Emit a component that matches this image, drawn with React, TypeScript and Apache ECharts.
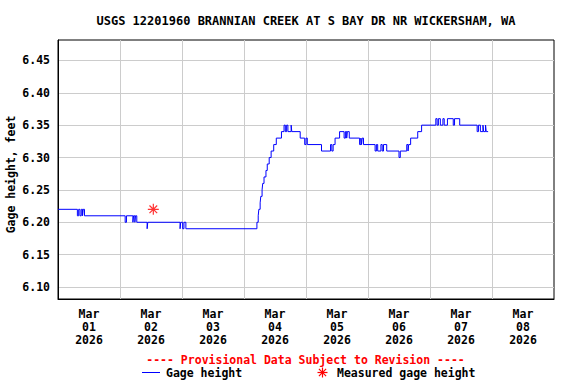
import React, { useEffect, useRef } from 'react';
import * as echarts from 'echarts';

const TITLE = 'USGS 12201960 BRANNIAN CREEK AT S BAY DR NR WICKERSHAM, WA';
const Y_NAME = 'Gage height, feet';
const PROVISIONAL = '---- Provisional Data Subject to Revision ----';
const LEGEND_LINE = 'Gage height';
const LEGEND_POINT = 'Measured gage height';
const MONTH = 'Mar';
const YEAR = '2026';
const DAY_LABELS = ['01', '02', '03', '04', '05', '06', '07', '08'];

// hours since 2026-03-01 00:00, value holds from that time until the next one
const gageHours = [
  -12, -4.5, -4.0, -3.5, -3.0, -2.5, -2.25, -1.75,
  14.0, 14.5, 17.0, 17.25, 17.75, 18.0, 18.5,
  22.5, 22.75,
  35.25, 35.5, 36.25, 36.75, 37.5,
  65.0, 65.5, 65.75, 66.25, 66.5, 67.0, 67.25, 67.75, 68.5, 69.0, 69.75, 70.5, 71.5, 72.5,
  74.5, 75.5, 76.0, 76.5, 77.0, 78.25, 78.5,
  81.75, 83.5, 84.0, 84.5,
  90.0, 93.5, 94.0, 94.5, 95.25, 97.0,
  98.75, 99.25, 99.75, 100.0, 100.75,
  104.75, 105.25, 105.5, 105.75, 106.25,
  110.75, 111.25, 111.75, 113.0, 113.5, 114.0, 115.25,
  120.0, 120.5,
  123.0, 123.5, 123.75, 124.5, 127.25, 128.75,
  134.25, 134.75, 135.25, 136.0, 137.0, 137.5, 138.75, 141.0, 141.5, 143.5,
  150.25, 150.75, 151.5, 152.5, 152.75, 153.5, 153.75, 154.5,
];
const gageValues = [
  6.22, 6.21, 6.22, 6.21, 6.22, 6.21, 6.22, 6.21,
  6.20, 6.21, 6.20, 6.21, 6.20, 6.21, 6.20,
  6.19, 6.20,
  6.19, 6.20, 6.19, 6.20, 6.19,
  6.20, 6.21, 6.22, 6.23, 6.24, 6.25, 6.26, 6.27, 6.28, 6.29, 6.30, 6.31, 6.32, 6.33,
  6.34, 6.35, 6.34, 6.35, 6.34, 6.35, 6.34,
  6.33, 6.32, 6.33, 6.32,
  6.31, 6.32, 6.31, 6.32, 6.33, 6.34,
  6.33, 6.34, 6.33, 6.34, 6.33,
  6.32, 6.33, 6.32, 6.33, 6.32,
  6.31, 6.32, 6.31, 6.32, 6.31, 6.32, 6.31,
  6.30, 6.31,
  6.32, 6.31, 6.32, 6.33, 6.34, 6.35,
  6.36, 6.35, 6.36, 6.35, 6.36, 6.35, 6.36, 6.35, 6.36, 6.35,
  6.34, 6.35, 6.34, 6.35, 6.34, 6.35, 6.34, 6.34,
];

const measuredHours = [24.9];
const measuredValues = [6.22];

const Y_MIN = 6.0815;
const Y_MAX = 6.4815;
const Y_STEP = 0.05;

const FONT = '"DejaVu Sans Mono", "Liberation Mono", monospace';
const ASTERISK = 'path://M5,0L5,10M0,5L10,5M1.5,1.5L8.5,8.5M1.5,8.5L8.5,1.5';

export default function App() {
  const ref = useRef<HTMLDivElement>(null);

  useEffect(() => {
    if (!ref.current) return;
    const chart = echarts.init(ref.current, null, { renderer: 'svg' });

    const txt = (extra: any) => ({
      fontFamily: FONT,
      fontWeight: 'bold',
      fontSize: 11.5,
      fill: '#000',
      ...extra,
    });

    const ax = 322.5;
    const ay = 372.5;
    const r = 5;
    const d = 3.6;

    chart.setOption({
      animation: false,
      backgroundColor: '#fff',
      grid: {
        left: 58,
        right: 22,
        top: 40,
        bottom: 85,
        show: true,
        borderColor: '#000',
        borderWidth: 1,
        backgroundColor: 'transparent',
      },
      xAxis: [
        {
          type: 'value',
          min: -12,
          max: 180,
          interval: 12,
          axisLine: { show: true, onZero: false, lineStyle: { color: '#000', width: 1 } },
          axisTick: { show: false },
          splitLine: { show: false },
          axisLabel: {
            margin: 8,
            fontFamily: FONT,
            fontWeight: 'bold',
            fontSize: 11.5,
            color: '#000',
            lineHeight: 13,
            formatter: (v: number) => {
              if (Math.abs(v % 24) > 1e-6) return '';
              const i = Math.round(v / 24);
              return DAY_LABELS[i] ? `${MONTH}\n${DAY_LABELS[i]}\n${YEAR}` : '';
            },
          },
        },
        {
          type: 'value',
          min: 0,
          max: 192,
          interval: 24,
          position: 'bottom',
          axisLine: { show: false, onZero: false },
          axisTick: { show: false },
          axisLabel: { show: false },
          splitLine: {
            show: true,
            showMinLine: false,
            showMaxLine: false,
            lineStyle: { color: '#cccccc', width: 1 },
          },
        },
      ],
      yAxis: {
        type: 'value',
        min: Y_MIN,
        max: Y_MAX,
        splitNumber: 8,
        minInterval: Y_STEP,
        maxInterval: Y_STEP,
        axisLine: { show: true, onZero: false, lineStyle: { color: '#000', width: 1 } },
        axisTick: { show: false },
        axisLabel: {
          margin: 8,
          showMinLabel: false,
          showMaxLabel: false,
          fontFamily: FONT,
          fontWeight: 'bold',
          fontSize: 11.5,
          color: '#000',
          formatter: (v: number) => v.toFixed(2),
        },
        splitLine: {
          show: true,
          showMinLine: false,
          showMaxLine: false,
          lineStyle: { color: '#cccccc', width: 1 },
        },
      },
      series: [
        {
          type: 'line',
          name: LEGEND_LINE,
          xAxisIndex: 0,
          step: 'end',
          showSymbol: false,
          data: gageHours.map((h, i) => [h, gageValues[i]]),
          lineStyle: { color: '#0000ff', width: 1 },
          z: 3,
        },
        {
          type: 'scatter',
          name: LEGEND_POINT,
          xAxisIndex: 0,
          symbol: ASTERISK,
          symbolSize: 11,
          data: measuredHours.map((h, i) => [h, measuredValues[i]]),
          itemStyle: { color: 'transparent', borderColor: '#ff0000', borderWidth: 1.2 },
          z: 4,
        },
      ],
      graphic: [
        {
          type: 'text',
          x: 306,
          y: 20.5,
          style: txt({ text: TITLE, fontSize: 12, align: 'center', verticalAlign: 'middle' }),
        },
        {
          type: 'text',
          x: 11,
          y: 174.5,
          rotation: Math.PI / 2,
          style: txt({ text: Y_NAME, align: 'center', verticalAlign: 'middle' }),
        },
        {
          type: 'text',
          x: 305.5,
          y: 359.5,
          style: txt({ text: PROVISIONAL, fill: '#ff0000', align: 'center', verticalAlign: 'middle' }),
        },
        {
          type: 'line',
          shape: { x1: 142, y1: 372.5, x2: 160, y2: 372.5 },
          style: { stroke: '#0000ff', lineWidth: 1 },
        },
        {
          type: 'text',
          x: 166,
          y: 372.5,
          style: txt({ text: LEGEND_LINE, align: 'left', verticalAlign: 'middle' }),
        },
        {
          type: 'group',
          children: [
            { type: 'line', shape: { x1: ax, y1: ay - r, x2: ax, y2: ay + r }, style: { stroke: '#ff0000', lineWidth: 1.2 } },
            { type: 'line', shape: { x1: ax - r, y1: ay, x2: ax + r, y2: ay }, style: { stroke: '#ff0000', lineWidth: 1.2 } },
            { type: 'line', shape: { x1: ax - d, y1: ay - d, x2: ax + d, y2: ay + d }, style: { stroke: '#ff0000', lineWidth: 1.2 } },
            { type: 'line', shape: { x1: ax - d, y1: ay + d, x2: ax + d, y2: ay - d }, style: { stroke: '#ff0000', lineWidth: 1.2 } },
          ],
        },
        {
          type: 'text',
          x: 337,
          y: 372.5,
          style: txt({ text: LEGEND_POINT, align: 'left', verticalAlign: 'middle' }),
        },
      ],
    });

    return () => chart.dispose();
  }, []);

  return (
    <div
      ref={ref}
      style={{ position: 'fixed', left: 0, top: 0, width: 576, height: 384, background: '#fff' }}
    />
  );
}
